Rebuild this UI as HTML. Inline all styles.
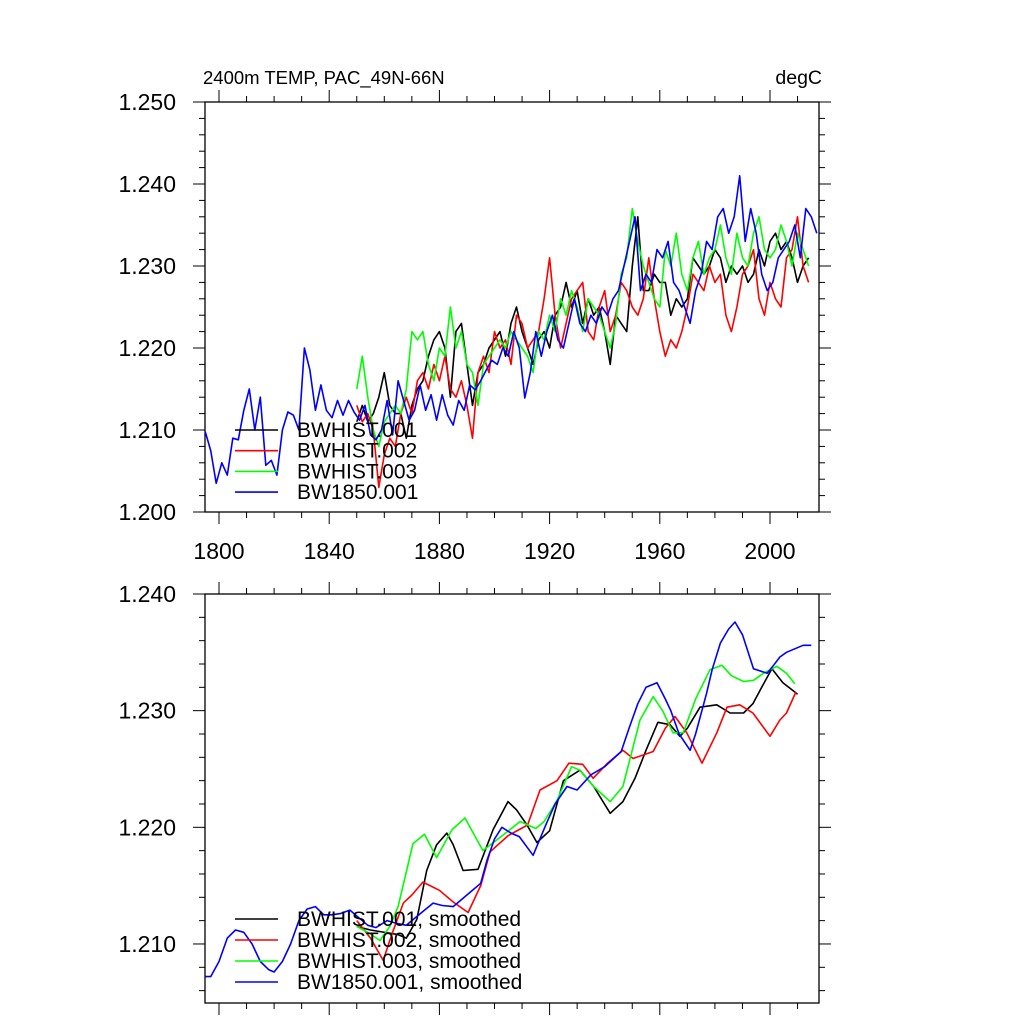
<!DOCTYPE html>
<html><head><meta charset="utf-8"><style>
html,body{margin:0;padding:0;background:#fff;}
svg{display:block;font-family:"Liberation Sans",Arial,sans-serif;}
</style></head><body>
<svg id="chart" width="1024" height="1024" viewBox="0 0 1024 1024" xmlns="http://www.w3.org/2000/svg">
<rect width="1024" height="1024" fill="#fff"/>
<text x="203" y="84" font-size="18.5">2400m TEMP, PAC_49N-66N</text>
<text x="822" y="84" font-size="19.5" text-anchor="end">degC</text>
<g id="top"></g>
<g id="bot"></g>
</svg>
<script>
// ---- Top panel data (annual, every 2 years; value = (T-1.2)*1000) ----
const blueStart = 1795;
const blueVals = [9.8,7.5,3.5,6,4.5,9,8.8,12.4,15,10,14,5.7,6.3,4.5,10,12.2,11.8,10,20,17.3,12.4,15.5,12.4,11.5,13.6,11.8,13.6,12.2,11.2,13,9.4,8.8,10,13.6,9.4,16,13.6,11.2,12.4,15.5,12.4,14.3,11.2,14.3,11.8,10.6,13.6,12.4,15.5,14.9,16,17.3,18.5,18,20,19,22,20,13.9,17,22,19,22,24,21,20,23,26,23,22,24,23,25,24,26,27,30,33,36,27,29,28,32,31,33,28,27,25,23,27,29,33,32,36,37,34,36,41,33,37,34,29,27,28,31,32,33,35,31,37,36,34];
const histStart = 1850;
const blackVals = [11,13,11,12,14,17,13,12,12,9,13,15,16,19,21,22,20,14,22,23,18,13,17,18,20,21,22,19,23,25,22,20,18,21,22,20,24,25,28,25,27,23,26,24,25,22,18,24,23,22,30,36,27,27,29,28,28,24,26,25,26,31,30,29,30,32,31,28,30,29,30,28,29,32,30,33,34,32,33,31,28,30,31];
const redVals = [13,11,12,10,3,7,9,8,12,14,12,16,17,15,18,16,19,15,14,16,13,9,17,19,17,22,20,21,18,24,23,20,21,22,26,31,24,20,23,26,27,28,22,21,25,27,22,24,28,27,25,24,26,31,26,22,19,21,20,22,25,29,28,27,30,28,29,24,22,25,29,30,32,26,24,28,26,25,31,32,36,30,28];
const greenVals = [15,19,14,10,8,11,12,13,12,15,22,21,22,18,16,20,19,25,20,22,18,17,13,18,19,20,21,20,22,21,20,19,17,22,21,24,22,26,24,27,25,22,26,25,24,22,20,23,29,31,37,33,30,28,26,25,32,30,34,29,27,31,33,29,31,32,35,31,29,34,31,30,34,36,32,31,32,35,33,30,34,32,30];

// ---- Bottom panel data (smoothed) ----
const sBlueYears = [1795,1797,1800,1803,1806,1809,1812,1815,1818,1820,1823,1826,1829,1832,1835,1838,1841,1844,1847.5,1851,1854,1857,1861,1864,1868,1872,1877.7,1881,1885,1890,1895,1897.3,1900,1902.7,1906,1909,1914,1919,1922,1926.3,1930,1935,1940,1946,1949,1952,1955,1959,1962,1964,1967,1971,1973,1977,1979,1982,1985,1987.3,1990,1994,1999,2001,2003.6,2006,2009,2012,2015];
const sBlueVals = [7.2,7.2,8.5,10.5,11.2,11,10,8.5,7.8,7.6,8.5,10,12,13,13.2,12.5,12.5,12.6,12.9,12.2,11.6,11.4,12,11.8,11.6,12.4,13.5,13.3,13.2,14.2,15.2,17.2,19,20,19.5,19.2,17.6,20.4,22,23.5,23.2,24.5,25.2,26.5,28.6,30.6,32,32.4,31,30,28,26.6,28,31.5,33.5,35.8,37,37.6,36.5,33.6,33.2,33.8,34.6,35,35.3,35.6,35.6];
const sBlackYears = [1850,1855,1860,1865,1868,1871.8,1875.4,1879,1882.7,1885,1888.6,1894,1899.5,1904.9,1908,1911.8,1915.4,1920,1925,1931,1936,1942,1946.6,1951,1955,1959.3,1963.7,1967.3,1970,1974.6,1980.7,1985.5,1990.4,1993.8,1997,2000.7,2004.7,2009,2010];
const sBlackVals = [11.5,11.2,11,10.8,10.5,12.1,16.3,18.5,19.5,18.5,16.3,16.4,19.8,22.2,21.5,20.2,18.7,19.7,24,24.9,23.5,21.2,22.2,24.2,26.6,29,28.8,27.8,28.5,30.3,30.5,29.8,29.8,30.6,32,33.6,32.4,31.6,31.4];
const sRedYears = [1850,1855,1859.6,1863,1866.9,1870,1874,1880,1885,1890.4,1895,1898.4,1905,1912,1916.5,1922.7,1927,1932,1935.8,1941,1946.6,1950.3,1957.6,1962,1965.5,1969.8,1975.3,1980.7,1984.4,1989,1993.8,2000,2003.6,2006,2009.4];
const sRedVals = [12,10.5,8.6,11,13.5,14.2,15.3,14.6,13.6,12.7,15,17.9,19.3,20.2,23.2,24,25.5,25.4,24.2,25.5,26.6,25.9,26.5,28.5,29.5,28.1,25.5,28.1,30.3,30.5,29.8,27.8,29.2,29.8,31.6];
const sGreenYears = [1850,1854,1858.4,1862,1865,1870.4,1874.6,1879,1884.6,1889.3,1895.8,1903.5,1909.3,1915,1918,1922.7,1928,1931,1936,1942,1946.6,1952.8,1957.6,1961,1964.8,1968.5,1973,1978.2,1982.5,1986,1990.4,1994,1997.6,2002.5,2006,2009];
const sGreenVals = [11.5,11,10.3,11.5,13.2,18.6,19.4,17.4,19.8,20.8,18,19.4,20.5,19.9,20.5,22.3,25.2,24.9,23.5,22.2,23.5,29.2,31.2,30,28.1,28.1,31,33.5,33.9,33,32.5,32.6,33.2,33.8,33.2,32.3];

// tick label arrays
const xTickYears = [1800,1840,1880,1920,1960,2000];
const topYTicks = [1.200,1.210,1.220,1.230,1.240,1.250];
const botYTicks = [1.210,1.220,1.230,1.240];
const legendTop = ["BWHIST.001","BWHIST.002","BWHIST.003","BW1850.001"];
const legendBot = ["BWHIST.001, smoothed","BWHIST.002, smoothed","BWHIST.003, smoothed","BW1850.001, smoothed"];
const colors = ["#000","#f00","#0f0","#00f"];

const NS="http://www.w3.org/2000/svg";
const L=205, R=819;
function xs(yr){return 219+(yr-1800)*(770-219)/200;}
function mk(tag,attrs,parent){const e=document.createElementNS(NS,tag);for(const k in attrs)e.setAttribute(k,attrs[k]);parent.appendChild(e);return e;}

function panel(g,T,B,ymin,ymax,yTicks,isTop){
  const ys=v=>B-(v-ymin)*(B-T)/(ymax-ymin);
  const fr=mk('rect',{x:L,y:T,width:R-L,height:B-T,fill:'none',stroke:'#000','stroke-width':1.3},g);
  
  
  for(let yr=1800;yr<=2010;yr+=10){
    const x=xs(yr), maj=(yr-1800)%40===0, len=maj?12:6;
    const t1=mk('line',{x1:x,x2:x,y1:B,y2:B+len,stroke:'#000','stroke-width':1},g);
    
    
    const t2=mk('line',{x1:x,x2:x,y1:T,y2:T-len,stroke:'#000','stroke-width':1},g);
    
    
  }
  if(isTop){
    xTickYears.forEach(yr=>{
      const t=mk('text',{x:xs(yr),y:B+47,'font-size':23,'text-anchor':'middle'},g);
      t.textContent=String(yr);
      
      
    });
  }
  const start=Math.ceil((ymin-1e-9)/0.002);
  for(let k=start;k*0.002<=ymax+1e-9;k++){
    const v=k*0.002, y=ys(v), maj=(k%5===0), len=maj?12:6;
    const a=mk('line',{x1:L,x2:L-len,y1:y,y2:y,stroke:'#000','stroke-width':1},g);
    
    
    const b=mk('line',{x1:R,x2:R+len,y1:y,y2:y,stroke:'#000','stroke-width':1},g);
    
    
  }
  yTicks.forEach(v=>{
    const t=mk('text',{x:176,y:ys(v)+8,'font-size':23,'text-anchor':'end'},g);
    t.textContent=v.toFixed(3);
    
    
  });
  return ys;
}

function series(g,years,vals,color,ys,name){
  const pts=vals.map((v,i)=>xs(years[i]).toFixed(1)+','+ys(1.2+v/1000).toFixed(1)).join(' ');
  const p=mk('polyline',{points:pts,fill:'none',stroke:color,'stroke-width':1.6,'stroke-linejoin':'round'},g);
  
  
}
function legend(g,labels,y0,dy){
  labels.forEach((lab,i)=>{
    const y=y0+i*dy;
    const l=mk('line',{x1:235,x2:278,y1:y,y2:y,stroke:colors[i],'stroke-width':1.6},g);
    
    
    const t=mk('text',{x:297,y:y+7,'font-size':21},g);
    t.textContent=lab;
    
    
  });
}

const gT=document.getElementById('top');
const ysT=panel(gT,102,512,1.200,1.250,topYTicks,true);
const seq=(s,n)=>Array.from({length:n},(_,i)=>s+2*i);
series(gT,seq(histStart,blackVals.length),blackVals,colors[0],ysT,'series-bwhist-001');
series(gT,seq(histStart,redVals.length),redVals,colors[1],ysT,'series-bwhist-002');
series(gT,seq(histStart,greenVals.length),greenVals,colors[2],ysT,'series-bwhist-003');
series(gT,seq(blueStart,blueVals.length),blueVals,colors[3],ysT,'series-bw1850-001');
legend(gT,legendTop,430,20.7);

const gB=document.getElementById('bot');
const ysB=panel(gB,594,1003,1.20494,1.240,botYTicks,false);
series(gB,sBlackYears,sBlackVals,colors[0],ysB,'smoothed-bwhist-001');
series(gB,sRedYears,sRedVals,colors[1],ysB,'smoothed-bwhist-002');
series(gB,sGreenYears,sGreenVals,colors[2],ysB,'smoothed-bwhist-003');
series(gB,sBlueYears,sBlueVals,colors[3],ysB,'smoothed-bw1850-001');
legend(gB,legendBot,919,21);
</script>
</body></html>
